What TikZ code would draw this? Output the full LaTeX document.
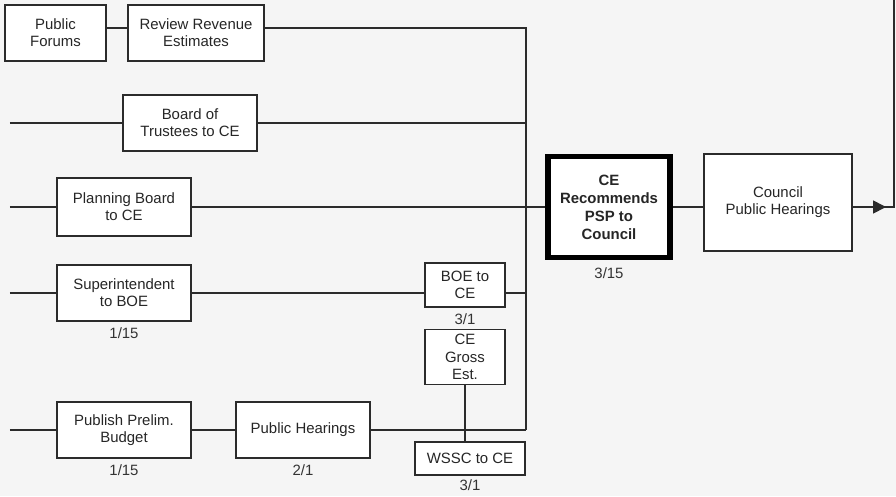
\documentclass[tikz,border=0pt]{standalone}
\usepackage{fontspec}
\setmainfont{Liberation Sans}
\usetikzlibrary{arrows.meta,positioning,calc}
\definecolor{bgpaper}{HTML}{F5F5F5}
\definecolor{inkgray}{HTML}{2B2B2B}
\tikzset{
  stepbox/.style={draw=inkgray, fill=white, line width=1pt, align=center, inner sep=1pt, font=\fontsize{8.5}{9.8}\selectfont, text=black!85},
  keybox/.style={draw=black, fill=white, line width=3.4pt, align=center, inner sep=1pt, font=\fontsize{8.5}{10.2}\selectfont\bfseries, text=black!85},
  datelbl/.style={inner sep=0pt, font=\fontsize{8.5}{9.8}\selectfont, text=black!80},
  flow/.style={draw=inkgray, line width=1pt},
  flowarrow/.style={-{Triangle[length=2.6mm, width=2.6mm]}, draw=inkgray, line width=1pt}
}
\begin{document}
\begin{tikzpicture}
  \fill[bgpaper] (0,0) rectangle (17.92,-9.92);
  \useasboundingbox (0,0) rectangle (17.92,-9.92);

  % left column
  \node[stepbox, minimum width=2.02cm, minimum height=1.12cm] (forums) at (1.11,-0.66) {Public\\Forums};
  \node[stepbox, minimum width=2.72cm, minimum height=1.12cm] (revenue) at (3.92,-0.66) {Review Revenue\\Estimates};
  \node[stepbox, minimum width=2.68cm, minimum height=1.12cm] (trustees) at (3.80,-2.46) {Board of\\Trustees to CE};
  \node[stepbox, minimum width=2.68cm, minimum height=1.16cm] (planning) at (2.48,-4.14) {Planning Board\\to CE};
  \node[stepbox, minimum width=2.68cm, minimum height=1.12cm] (supt) at (2.48,-5.86) {Superintendent\\to BOE};
  \node[stepbox, minimum width=2.68cm, minimum height=1.12cm] (prelim) at (2.48,-8.60) {Publish Prelim.\\Budget};
  \node[stepbox, minimum width=2.68cm, minimum height=1.12cm] (hearings) at (6.06,-8.60) {Public Hearings};

  % middle column
  \node[stepbox, minimum width=1.60cm, minimum height=0.88cm] (boe) at (9.30,-5.70) {BOE to\\CE};
  \node[stepbox, minimum width=1.60cm, minimum height=1.10cm] (gross) at (9.30,-7.14) {CE\\Gross\\Est.};
  \node[stepbox, minimum width=2.20cm, minimum height=0.66cm] (wssc) at (9.40,-9.17) {WSSC to CE};

  % right part
  \node[keybox, minimum width=2.44cm, minimum height=2.02cm] (recommend) at (12.18,-4.14) {CE\\Recommends\\PSP to\\Council};
  \node[stepbox, minimum width=2.96cm, minimum height=1.94cm] (council) at (15.56,-4.05) {Council\\Public Hearings};

  % dates
  \node[datelbl, below=3pt of supt] (supt date) {1/15};
  \node[datelbl, below=3pt of prelim] (prelim date) {1/15};
  \node[datelbl, below=3pt of hearings] (hearings date) {2/1};
  \node[datelbl, below=3pt of boe] (boe date) {3/1};
  \node[datelbl, below=2pt of wssc] (wssc date) {3/1};
  \node[datelbl, below=4pt of recommend] (recommend date) {3/15};

  % bus and free ends
  \coordinate (bus) at (10.52,0);
  \coordinate (bus bottom) at (hearings.east -| bus);
  \coordinate (left end) at (0.20,0);
  \coordinate (out top) at (17.88,0);

  \draw[flow] ([yshift=3pt]forums.east) -- ([yshift=3pt]forums.east -| revenue.west);
  \draw[flow] ([yshift=3pt]revenue.east) -| (bus bottom);
  \draw[flow] (left end |- trustees) -- (trustees.west);
  \draw[flow] (trustees.east) -- (trustees -| bus);
  \draw[flow] (left end |- planning) -- (planning.west);
  \draw[flow] (planning.east) -- (planning -| recommend.west);
  \draw[flow] (left end |- supt) -- (supt.west);
  \draw[flow] (supt.east) -- (supt -| boe.west);
  \draw[flow] (supt -| boe.east) -- (supt -| bus);
  \draw[flow] (left end |- prelim) -- (prelim.west);
  \draw[flow] (prelim.east) -- (hearings.west);
  \draw[flow] (hearings.east) -- (bus bottom);
  \draw[flow] (gross.south) -- (gross.south |- wssc.north);
  \draw[flow] (recommend.east |- planning) -- (council.west |- planning);
  \draw[flowarrow] (council.east |- planning) -- ($(out top |- planning)+(-0.16,0)$);
  \draw[flow] ($(out top |- planning)+(-0.2,0)$) -- (out top |- planning) -- (out top);
\end{tikzpicture}
\end{document}
